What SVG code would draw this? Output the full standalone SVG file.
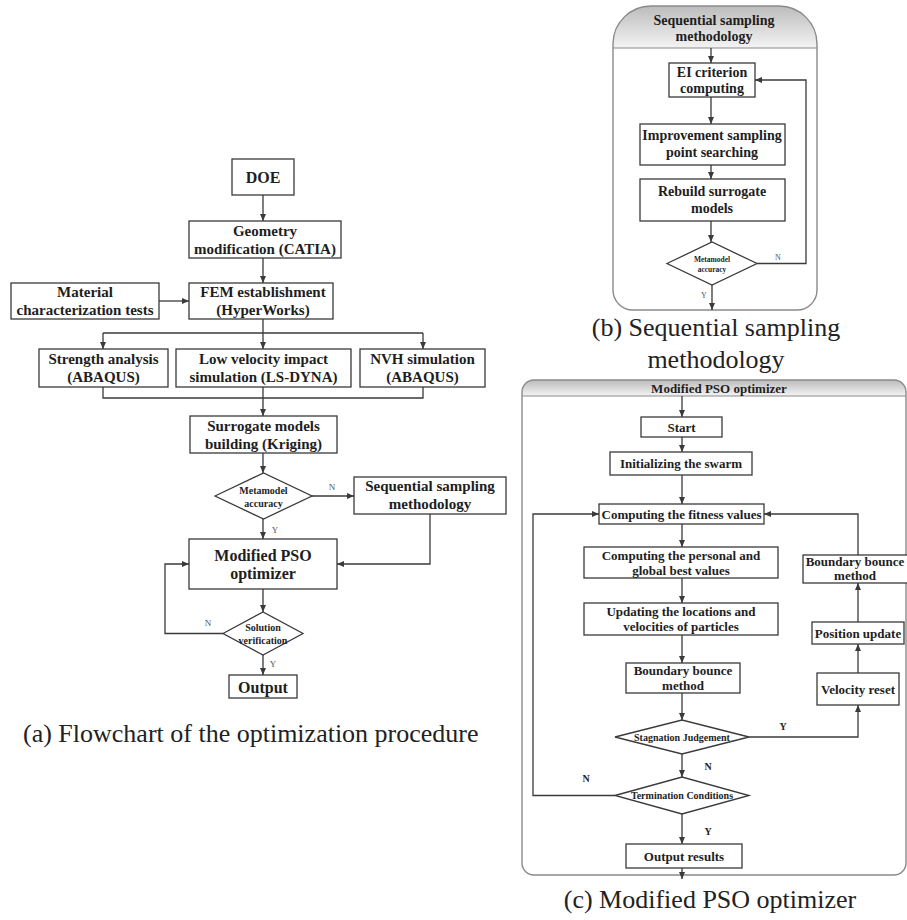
<svg xmlns="http://www.w3.org/2000/svg" width="907" height="920" viewBox="0 0 907 920">
<defs>
<style>
.box{fill:#fff;stroke:#3a3a3a;stroke-width:1.3}
.dia{fill:#fff;stroke:#3a3a3a;stroke-width:1.3}
.edge{fill:none;stroke:#3a3a3a;stroke-width:1.3}
.panel{fill:none;stroke:#8a8a8a;stroke-width:1.4}
.t{font-family:"Liberation Serif","Times New Roman",serif;font-weight:bold;fill:#1e1e1e;text-anchor:middle}
.s15{font-size:15px}
.s16{font-size:16px}
.s14{font-size:14px}
.s13{font-size:13px}
.s10{font-size:10px}
.s75{font-size:7.5px}
.lbl{font-family:"Liberation Serif","Times New Roman",serif;fill:#555;font-size:9px;text-anchor:middle}
.lblb{font-family:"Liberation Serif","Times New Roman",serif;fill:#222;font-size:10px;font-weight:bold;text-anchor:middle}
.cap{font-family:"Liberation Serif","Times New Roman",serif;fill:#222;font-size:26px}
</style>
<marker id="ar" markerUnits="userSpaceOnUse" markerWidth="7" markerHeight="6" refX="7" refY="3" orient="auto">
<path d="M0,0 L7,3 L0,6 Z" fill="#3a3a3a"/>
</marker>
<linearGradient id="hg" x1="0" y1="0" x2="0" y2="1">
<stop offset="0" stop-color="#bcbcbc"/>
<stop offset="1" stop-color="#f4f4f4"/>
</linearGradient>
</defs>

<!-- Panel frames -->
<g id="panel-b-frame">
<path d="M613,48 L613,44 A38,38 0 0 1 651,6 L779,6 A38,38 0 0 1 817,44 L817,48 Z" fill="url(#hg)"/>
<path class="panel" d="M613,44 A38,38 0 0 1 651,6 L779,6 A38,38 0 0 1 817,44 L817,290 A20,20 0 0 1 797,310 L633,310 A20,20 0 0 1 613,290 Z"/>
<line x1="613" y1="48" x2="817" y2="48" stroke="#8a8a8a" stroke-width="1.2"/>
<text class="t s14" x="714" y="25">Sequential sampling</text>
<text class="t s14" x="714" y="41">methodology</text>
</g>
<g id="panel-c-frame">
<path d="M522,396 L522,392 A12,12 0 0 1 534,380 L894,380 A12,12 0 0 1 906,392 L906,396 Z" fill="url(#hg)"/>
<path class="panel" d="M522,392 A12,12 0 0 1 534,380 L894,380 A12,12 0 0 1 906,392 L906,863 A12,12 0 0 1 894,875 L534,875 A12,12 0 0 1 522,863 Z"/>
<line x1="522" y1="396" x2="906" y2="396" stroke="#8a8a8a" stroke-width="1.2"/>
<text class="t s13" x="719" y="393">Modified PSO optimizer</text>
</g>

<!-- Connectors -->
<g id="connectors">
<!-- panel a -->
<path class="edge" d="M263,195 V221" marker-end="url(#ar)"/>
<path class="edge" d="M263,258 V283" marker-end="url(#ar)"/>
<path class="edge" d="M159,301 H189" marker-end="url(#ar)"/>
<path class="edge" d="M263,319 V349" marker-end="url(#ar)"/>
<path class="edge" d="M103,333 H423"/>
<path class="edge" d="M103,333 V349" marker-end="url(#ar)"/>
<path class="edge" d="M423,333 V349" marker-end="url(#ar)"/>
<path class="edge" d="M103,387 V398 H423 V387"/>
<path class="edge" d="M263,387 V416" marker-end="url(#ar)"/>
<path class="edge" d="M263,453 V473" marker-end="url(#ar)"/>
<path class="edge" d="M312,496 H354" marker-end="url(#ar)"/>
<path class="edge" d="M263,519 V539" marker-end="url(#ar)"/>
<path class="edge" d="M430,514 V564 H337" marker-end="url(#ar)"/>
<path class="edge" d="M263,589 V612" marker-end="url(#ar)"/>
<path class="edge" d="M223,633.5 H165 V564 H189" marker-end="url(#ar)"/>
<path class="edge" d="M263,655 V675" marker-end="url(#ar)"/>
<!-- panel b -->
<path class="edge" d="M711,48 V63" marker-end="url(#ar)"/>
<path class="edge" d="M711,97 V124" marker-end="url(#ar)"/>
<path class="edge" d="M711,165 V179" marker-end="url(#ar)"/>
<path class="edge" d="M711,221 V242" marker-end="url(#ar)"/>
<path class="edge" d="M757,263.5 H806 V80 H755" marker-end="url(#ar)"/>
<path class="edge" d="M712,285 V310" marker-end="url(#ar)"/>
<!-- panel c -->
<path class="edge" d="M682,396 V417" marker-end="url(#ar)"/>
<path class="edge" d="M682,437 V452" marker-end="url(#ar)"/>
<path class="edge" d="M682,475 V504" marker-end="url(#ar)"/>
<path class="edge" d="M682,524 V547" marker-end="url(#ar)"/>
<path class="edge" d="M682,578 V603" marker-end="url(#ar)"/>
<path class="edge" d="M682,635 V663" marker-end="url(#ar)"/>
<path class="edge" d="M682,693 V720" marker-end="url(#ar)"/>
<path class="edge" d="M749,737 H858 V705" marker-end="url(#ar)"/>
<path class="edge" d="M858,673 V644" marker-end="url(#ar)"/>
<path class="edge" d="M858,622 V583" marker-end="url(#ar)"/>
<path class="edge" d="M858,555 V514 H764" marker-end="url(#ar)"/>
<path class="edge" d="M682,754 V777" marker-end="url(#ar)"/>
<path class="edge" d="M615,795.5 H533 V514 H599" marker-end="url(#ar)"/>
<path class="edge" d="M682,814 V844" marker-end="url(#ar)"/>
<path class="edge" d="M682,868 V879" marker-end="url(#ar)"/>
<!-- labels -->
<text class="lbl" x="332" y="490">N</text>
<text class="lbl" x="275" y="533">Y</text>
<text class="lbl" x="208" y="626">N</text>
<text class="lbl" x="273" y="667">Y</text>
<text class="lbl" x="778" y="260" style="font-size:8px">N</text>
<text class="lbl" x="704" y="298" style="font-size:8px">Y</text>
<text class="lblb" x="783" y="730">Y</text>
<text class="lblb" x="708" y="770">N</text>
<text class="lblb" x="586" y="782">N</text>
<text class="lblb" x="708" y="835">Y</text>
</g>

<!-- Panel (a) nodes -->
<g id="doe"><rect class="box" x="232" y="159" width="62" height="36"/><text class="t s16" x="263" y="183">DOE</text></g>
<g id="geometry"><rect class="box" x="189" y="221" width="152" height="37"/><text class="t s15" x="265" y="235.5">Geometry</text><text class="t s15" x="265" y="253.5">modification (CATIA)</text></g>
<g id="fem"><rect class="box" x="189" y="283" width="144" height="36"/><text class="t s15" x="263" y="297">FEM establishment</text><text class="t s15" x="263" y="315">(HyperWorks)</text></g>
<g id="material"><rect class="box" x="11" y="283" width="148" height="36"/><text class="t s15" x="85" y="297">Material</text><text class="t s15" x="85" y="315">characterization tests</text></g>
<g id="strength"><rect class="box" x="39" y="349" width="129" height="38"/><text class="t s15" x="103.5" y="364">Strength analysis</text><text class="t s15" x="103.5" y="382">(ABAQUS)</text></g>
<g id="lowvel"><rect class="box" x="176" y="349" width="175" height="38"/><text class="t s15" x="263.5" y="364">Low velocity impact</text><text class="t s15" x="263.5" y="382">simulation (LS-DYNA)</text></g>
<g id="nvh"><rect class="box" x="360" y="349" width="125" height="38"/><text class="t s15" x="422.5" y="364">NVH simulation</text><text class="t s15" x="422.5" y="382">(ABAQUS)</text></g>
<g id="surrogate"><rect class="box" x="190" y="416" width="147" height="37"/><text class="t s15" x="263.5" y="430.5">Surrogate models</text><text class="t s15" x="263.5" y="448.5">building (Kriging)</text></g>
<g id="meta-a"><polygon class="dia" points="215,496 263.5,473 312,496 263.5,519"/><text class="t s10" x="263.5" y="493.5">Metamodel</text><text class="t s10" x="263.5" y="506.5">accuracy</text></g>
<g id="seq-a"><rect class="box" x="354" y="477" width="152" height="37"/><text class="t s15" x="430" y="491">Sequential sampling</text><text class="t s15" x="430" y="509">methodology</text></g>
<g id="pso-a"><rect class="box" x="189" y="539" width="148" height="50"/><text class="t s16" x="263" y="561">Modified PSO</text><text class="t s16" x="263" y="579">optimizer</text></g>
<g id="solution"><polygon class="dia" points="223,633.5 263,612 303,633.5 263,655"/><text class="t s10" x="263" y="630.5">Solution</text><text class="t s10" x="263" y="643.5">verification</text></g>
<g id="output-a"><rect class="box" x="229" y="675" width="68" height="23"/><text class="t s16" x="263" y="692.5">Output</text></g>

<!-- Panel (b) nodes -->
<g id="ei"><rect class="box" x="669" y="63" width="86" height="34"/><text class="t s14" x="712" y="76.5">EI criterion</text><text class="t s14" x="712" y="92.5">computing</text></g>
<g id="improve"><rect class="box" x="640" y="124" width="145" height="41"/><text class="t s14" x="712" y="140">Improvement sampling</text><text class="t s14" x="712" y="157">point searching</text></g>
<g id="rebuild"><rect class="box" x="640" y="179" width="145" height="42"/><text class="t s14" x="712" y="195.5">Rebuild surrogate</text><text class="t s14" x="712" y="213">models</text></g>
<g id="meta-b"><polygon class="dia" points="667,263.5 712,242 757,263.5 712,285"/><text class="t s75" x="712" y="261.5">Metamodel</text><text class="t s75" x="712" y="272">accuracy</text></g>

<!-- Panel (c) nodes -->
<g id="start"><rect class="box" x="641" y="417" width="81" height="20"/><text class="t s13" x="681.5" y="431.5">Start</text></g>
<g id="init"><rect class="box" x="610" y="452" width="142" height="23"/><text class="t s13" x="681" y="468">Initializing the swarm</text></g>
<g id="fitness"><rect class="box" x="599" y="504" width="165" height="20"/><text class="t s13" x="681.5" y="518.5">Computing the fitness values</text></g>
<g id="personal"><rect class="box" x="584" y="547" width="194" height="31"/><text class="t s13" x="681" y="559.5">Computing the personal and</text><text class="t s13" x="681" y="574.5">global best values</text></g>
<g id="updating"><rect class="box" x="584" y="603" width="194" height="32"/><text class="t s13" x="681" y="615.5">Updating the locations and</text><text class="t s13" x="681" y="631">velocities of particles</text></g>
<g id="bounce-l"><rect class="box" x="626" y="663" width="114" height="30"/><text class="t s13" x="683" y="675">Boundary bounce</text><text class="t s13" x="683" y="690">method</text></g>
<g id="stagnation"><polygon class="dia" points="615,737 682,720 749,737 682,754"/><text class="t s10" x="682" y="740.5">Stagnation Judgement</text></g>
<g id="termination"><polygon class="dia" points="615,795.5 682,777 749,795.5 682,814"/><text class="t s10" x="682" y="799">Termination Conditions</text></g>
<g id="output-c"><rect class="box" x="626" y="844" width="116" height="24"/><text class="t s13" x="684" y="860.5">Output results</text></g>
<g id="velocity"><rect class="box" x="817" y="673" width="82" height="32"/><text class="t s13" x="858" y="693.5">Velocity reset</text></g>
<g id="position"><rect class="box" x="812" y="622" width="92" height="22"/><text class="t s13" x="858" y="637.5">Position update</text></g>
<g id="bounce-r"><rect class="box" x="803" y="555" width="106" height="28"/><text class="t s13" x="855" y="566">Boundary bounce</text><text class="t s13" x="855" y="580">method</text></g>

<!-- Captions -->
<text class="cap" x="23" y="742">(a) Flowchart of the optimization procedure</text>
<text class="cap" x="716" y="336" text-anchor="middle">(b) Sequential sampling</text>
<text class="cap" x="716" y="368" text-anchor="middle">methodology</text>
<text class="cap" x="710" y="908" text-anchor="middle">(c) Modified PSO optimizer</text>
</svg>
